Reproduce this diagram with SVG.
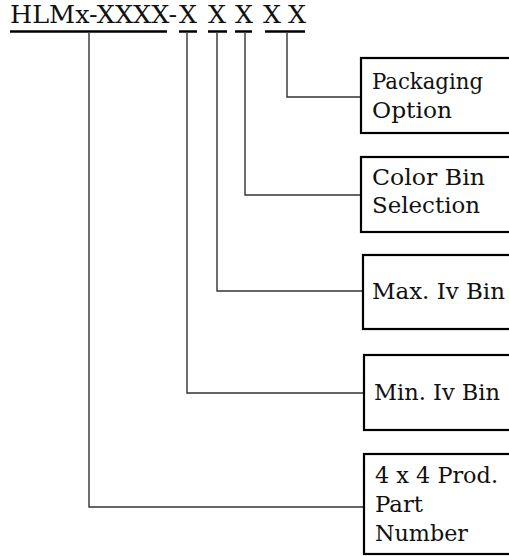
<svg xmlns="http://www.w3.org/2000/svg" width="509" height="556" viewBox="0 0 509 556">
<style>
text{font-family:"DejaVu Serif","Liberation Serif",serif;font-size:22px;fill:#111}
.hd{font-size:24px}
.box{fill:#fff;stroke:#000;stroke-width:2.2}
.ul{stroke:#000;stroke-width:2.5}
.cn{fill:none;stroke:#333;stroke-width:1.4}
</style>
<g id="header">
<text class="hd" x="10" y="23" textLength="167" lengthAdjust="spacingAndGlyphs">HLMx-XXXX-</text>
<text class="hd" x="179" y="23" textLength="18" lengthAdjust="spacingAndGlyphs">X</text>
<text class="hd" x="208" y="23" textLength="18" lengthAdjust="spacingAndGlyphs">X</text>
<text class="hd" x="235" y="23" textLength="18" lengthAdjust="spacingAndGlyphs">X</text>
<text class="hd" x="263" y="23" textLength="18" lengthAdjust="spacingAndGlyphs">X</text>
<text class="hd" x="288" y="23" textLength="18" lengthAdjust="spacingAndGlyphs">X</text>
<line class="ul" x1="10" y1="31.5" x2="167" y2="31.5"/>
<line class="ul" x1="179" y1="31.5" x2="197" y2="31.5"/>
<line class="ul" x1="208" y1="31.5" x2="227" y2="31.5"/>
<line class="ul" x1="235" y1="31.5" x2="252" y2="31.5"/>
<line class="ul" x1="265" y1="31.5" x2="305" y2="31.5"/>
</g>
<g id="connectors">
<polyline class="cn" points="287,33 287,97 361,97"/>
<polyline class="cn" points="245,33 245,195 361,195"/>
<polyline class="cn" points="217,33 217,291 363,291"/>
<polyline class="cn" points="187,33 187,393 364,393"/>
<polyline class="cn" points="89,33 89,507 364,507"/>
</g>
<g id="packaging">
<rect class="box" x="361" y="58" width="160" height="75"/>
<text x="372" y="89" textLength="111" lengthAdjust="spacingAndGlyphs">Packaging</text>
<text x="372" y="118" textLength="80" lengthAdjust="spacingAndGlyphs">Option</text>
</g>
<g id="color">
<rect class="box" x="361" y="157" width="160" height="75"/>
<text x="372" y="185" textLength="113" lengthAdjust="spacingAndGlyphs">Color Bin</text>
<text x="372" y="213" textLength="108" lengthAdjust="spacingAndGlyphs">Selection</text>
</g>
<g id="maxiv">
<rect class="box" x="363" y="255" width="160" height="74"/>
<text x="372" y="299" textLength="133" lengthAdjust="spacingAndGlyphs">Max. Iv Bin</text>
</g>
<g id="miniv">
<rect class="box" x="364" y="355" width="160" height="75"/>
<text x="374" y="400" textLength="126" lengthAdjust="spacingAndGlyphs">Min. Iv Bin</text>
</g>
<g id="prodpart">
<rect class="box" x="364" y="454" width="160" height="100"/>
<text x="375" y="483" textLength="123" lengthAdjust="spacingAndGlyphs">4 x 4 Prod.</text>
<text x="375" y="512" textLength="48" lengthAdjust="spacingAndGlyphs">Part</text>
<text x="375" y="541" textLength="93" lengthAdjust="spacingAndGlyphs">Number</text>
</g>
</svg>
